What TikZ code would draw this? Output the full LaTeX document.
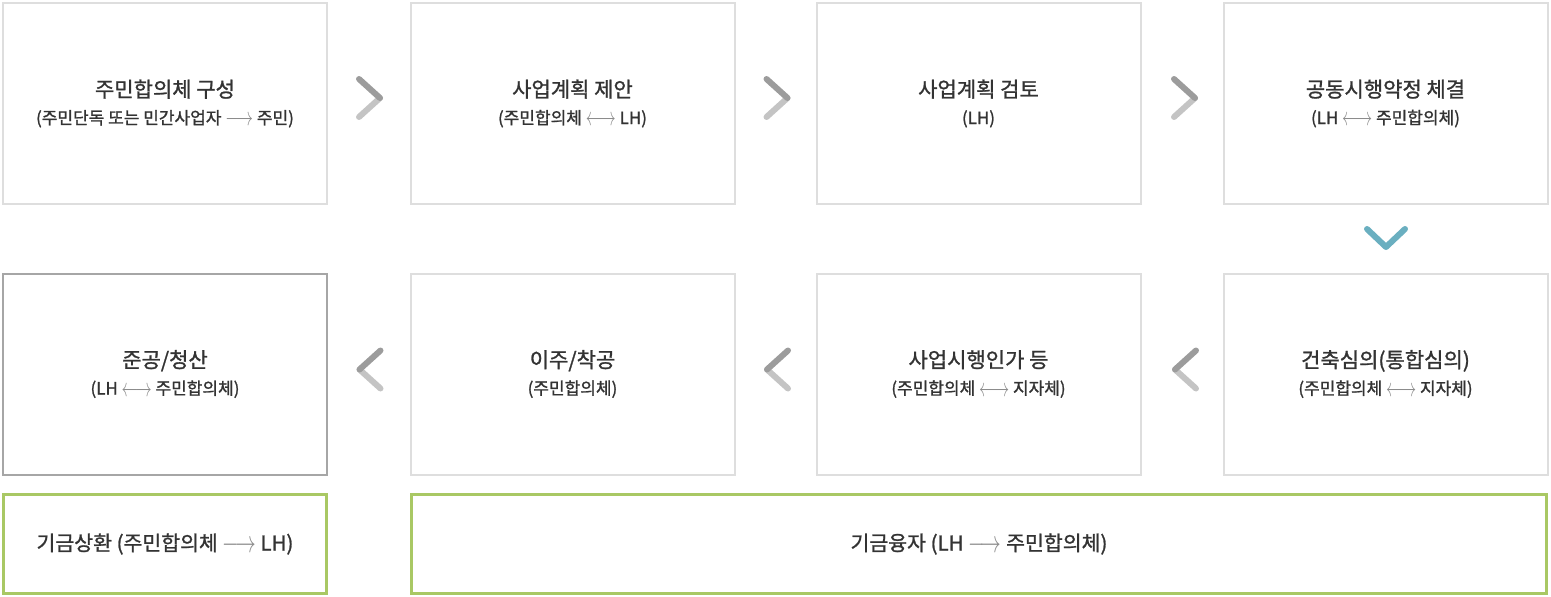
\documentclass[tikz,border=0pt]{standalone}
\usepackage{fontspec}
\setmainfont{Noto Sans CJK KR}[FakeBold=1.2]
\newfontfamily\boxfont{Noto Sans CJK KR}[FakeBold=1.2]
\usepackage{xcolor}
\usepackage{tikz}

\definecolor{boxgray}{HTML}{DEDEDE}
\definecolor{endgray}{HTML}{A6A6A6}
\definecolor{fundgreen}{HTML}{A9C864}
\definecolor{chevdark}{HTML}{9C9C9C}
\definecolor{chevlight}{HTML}{C4C4C4}
\definecolor{chevteal}{HTML}{6AAFC0}
\definecolor{txtgray}{HTML}{333333}
\definecolor{arrgray}{HTML}{8C8C8C}

\newcommand{\steptitle}[1]{{\fontsize{21}{25}\selectfont #1}}
\newcommand{\toarr}{\textcolor{arrgray}{\raisebox{-1.5pt}{\scalebox{1}[1.5]{$\longrightarrow$}}}}
\newcommand{\bothar}{\textcolor{arrgray}{\raisebox{-1.5pt}{\scalebox{0.95}[1.5]{$\longleftrightarrow$}}}}

\tikzset{
  stepbox/.style={draw=boxgray, line width=2pt, minimum width=324pt, minimum height=201pt,
    inner sep=0pt, align=center, text=txtgray, font=\boxfont\fontsize{17}{27}\selectfont},
  endbox/.style={stepbox, draw=endgray},
  fundbox/.style={draw=fundgreen, line width=2.5pt, minimum height=99pt,
    inner sep=0pt, text=txtgray, font=\boxfont\fontsize{20.5}{24}\selectfont},
  chevhi/.style={draw=chevdark, line width=6pt, line cap=round},
  chevlo/.style={draw=chevlight, line width=6pt, line cap=round},
  chevdown/.style={draw=chevteal, line width=6pt, line cap=round, line join=round}
}

\begin{document}
\begin{tikzpicture}[x=1pt, y=-1pt]
\useasboundingbox (0,0) rectangle (1551,597);
% top row
\node[stepbox] (form) at (165,103.5) {\steptitle{주민합의체 구성}\\(주민단독 또는 민간사업자 \toarr{} 주민)};
\node[stepbox] (propose) at (572.5,103.5) {\steptitle{사업계획 제안}\\(주민합의체 \bothar{} LH)};
\node[stepbox] (review) at (978.5,103.5) {\steptitle{사업계획 검토}\\(LH)};
\node[stepbox] (agree) at (1385.5,103.5) {\steptitle{공동시행약정 체결}\\(LH \bothar{} 주민합의체)};
% bottom row
\node[stepbox] (deliber) at (1385.5,374) {\steptitle{건축심의(통합심의)}\\(주민합의체 \bothar{} 지자체)};
\node[stepbox] (permit) at (978.5,374) {\steptitle{사업시행인가 등}\\(주민합의체 \bothar{} 지자체)};
\node[stepbox] (move) at (572.5,374) {\steptitle{이주/착공}\\(주민합의체)};
\node[endbox] (finish) at (165,374) {\steptitle{준공/청산}\\(LH \bothar{} 주민합의체)};
% fund
\node[fundbox, minimum width=323pt] (repay) at (165,544) {기금상환 (주민합의체 \toarr{} LH)};
\node[fundbox, minimum width=1135pt] (loan) at (979,544) {기금융자 (LH \toarr{} 주민합의체)};
% chevrons
\begin{scope}[shift={(369.5,98)}]
\draw[chevlo] (-10.5,19) -- (10.5,0);
\draw[chevhi] (-10.5,-19) -- (10.5,0);
\end{scope}
\begin{scope}[shift={(777,98)}]
\draw[chevlo] (-10.5,19) -- (10.5,0);
\draw[chevhi] (-10.5,-19) -- (10.5,0);
\end{scope}
\begin{scope}[shift={(1184.5,98)}]
\draw[chevlo] (-10.5,19) -- (10.5,0);
\draw[chevhi] (-10.5,-19) -- (10.5,0);
\end{scope}
\begin{scope}[shift={(1185.5,369.5)}]
\draw[chevlo] (10.5,19) -- (-10.5,0);
\draw[chevhi] (10.5,-19) -- (-10.5,0);
\end{scope}
\begin{scope}[shift={(777.5,369.5)}]
\draw[chevlo] (10.5,19) -- (-10.5,0);
\draw[chevhi] (10.5,-19) -- (-10.5,0);
\end{scope}
\begin{scope}[shift={(370,369.5)}]
\draw[chevlo] (10.5,19) -- (-10.5,0);
\draw[chevhi] (10.5,-19) -- (-10.5,0);
\end{scope}
\draw[chevdown] (1367,229) -- (1386,247) -- (1405,229);
\end{tikzpicture}
\end{document}
